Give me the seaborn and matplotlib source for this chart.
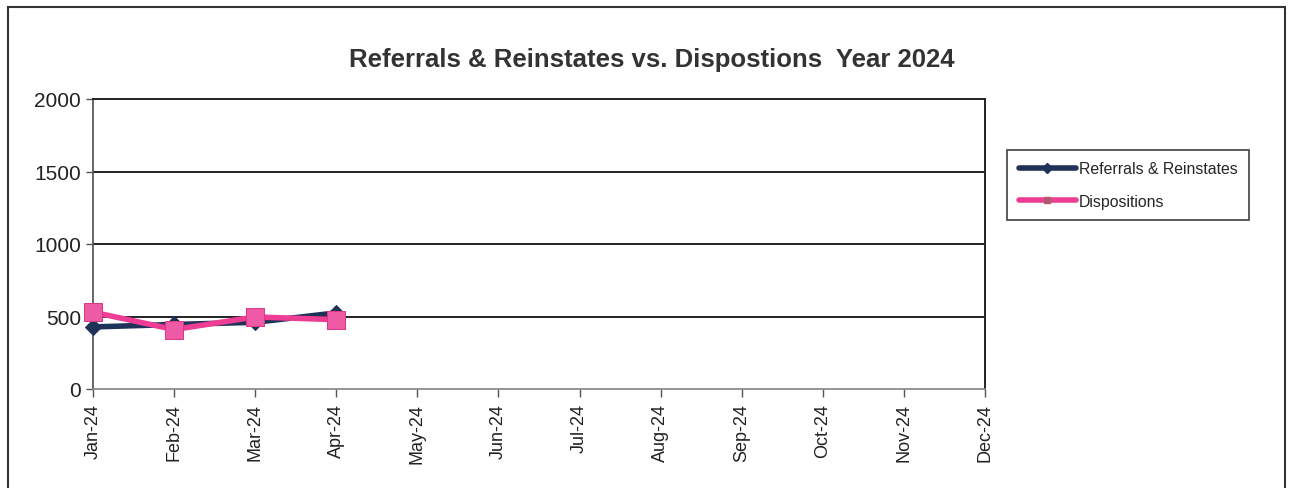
import matplotlib
matplotlib.use("Agg")
import matplotlib.pyplot as plt
import seaborn as sns
import pandas as pd
import numpy as np
from matplotlib.patches import Rectangle
from matplotlib.lines import Line2D

months = ["Jan-24", "Feb-24", "Mar-24", "Apr-24", "May-24", "Jun-24",
          "Jul-24", "Aug-24", "Sep-24", "Oct-24", "Nov-24", "Dec-24"]
referrals = [428, 445, 460, 525]
dispositions = [530, 410, 497, 478]
y_ticks = [0, 500, 1000, 1500, 2000]

sns.set_theme(style="white")
plt.rcParams['font.family'] = ['Liberation Sans', 'DejaVu Sans']

fig = plt.figure(figsize=(12.89, 4.89), dpi=100)
ax = fig.add_axes([93/1289, 1-390/489, (985-93)/1289, (390-100)/489])

df = pd.DataFrame({
    "month": list(range(len(referrals))) * 2,
    "value": referrals + dispositions,
    "series": ["Referrals & Reinstates"] * len(referrals) + ["Dispositions"] * len(dispositions),
})

palette = {"Referrals & Reinstates": "#1f3358", "Dispositions": "#ee3d94"}
sns.lineplot(data=df, x="month", y="value", hue="series", style="series",
             markers={"Referrals & Reinstates": "D", "Dispositions": "s"},
             dashes=False, palette=palette, linewidth=4, ax=ax, sort=False,
             legend=False)
lines = ax.get_lines()
for ln, mfc, mec, ms in zip(lines, ["#1f3358", "#ee5aa5"], ["#1f3358", "#d93a86"], [8, 13]):
    ln.set_markersize(ms)
    ln.set_markerfacecolor(mfc)
    ln.set_markeredgecolor(mec)
    ln.set_clip_on(False)
    ln.set_zorder(3)

ax.set_xlim(0, 11)
ax.set_ylim(0, 2000)
ax.set_yticks(y_ticks)
ax.set_yticklabels([str(v) for v in y_ticks], fontsize=15, color="#222222")
ax.set_xticks(range(12))
ax.set_xticklabels(months, rotation=90, fontsize=13, color="#222222")
ax.tick_params(axis="x", direction="out", length=6, width=1, color="#555555", bottom=True, pad=4)
ax.tick_params(axis="y", direction="out", length=5, width=1, color="#555555", left=True)
ax.set_xlabel("")
ax.set_ylabel("")
for y in [500, 1000, 1500]:
    ax.axhline(y, color="#222222", linewidth=1.4, zorder=0)
for s in ["top", "right"]:
    ax.spines[s].set_color("#222222")
    ax.spines[s].set_linewidth(1.4)
ax.spines["left"].set_color("#555555")
ax.spines["bottom"].set_color("#888888")
ax.spines["bottom"].set_linestyle((0, (2, 1)))

fig.text(652/1289, 1 - 60/489, "Referrals & Reinstates vs. Dispostions  Year 2024",
         ha="center", va="center", fontsize=18.5, fontweight="bold", color="#333333")

handles = [Line2D([0], [0], color="#1f3358", lw=4, marker="D", markersize=5),
           Line2D([0], [0], color="#ee3d94", lw=4, marker="s", markersize=5,
                  markerfacecolor="#b05a70", markeredgecolor="#b05a70")]
leg = fig.legend(handles, ["Referrals & Reinstates", "Dispositions"],
                 loc="center", bbox_to_anchor=(1128/1289, 1 - 186/489),
                 frameon=True, fancybox=False, fontsize=11.4, handlelength=3.6,
                 handletextpad=0.2, borderpad=0.7, labelspacing=1.1)
leg.get_frame().set_edgecolor("#222222")
leg.get_frame().set_linewidth(1.3)

fig.patches.append(Rectangle((8/1289, -0.05), (1285-8)/1289, 1 - 8/489 + 0.05,
                             transform=fig.transFigure, fill=False,
                             edgecolor="#333333", linewidth=1.5))

fig.savefig("out.png", dpi=100)
